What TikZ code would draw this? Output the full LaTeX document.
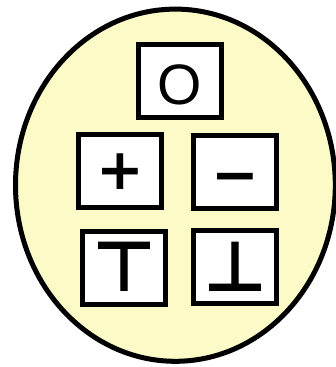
\documentclass[tikz,border=0pt]{standalone}
\usepackage{fontspec}
\setmainfont{Liberation Sans}
\newfontfamily\symfont{DejaVu Sans Bold}
\definecolor{ellfill}{RGB}{252,251,200}
\begin{document}
\begin{tikzpicture}[x=1pt,y=-1pt,
  symbox/.style={draw=black,line width=5pt,fill=white,minimum width=83pt,minimum height=73pt,inner sep=0pt,text height=0pt,text depth=0pt},
  outer/.style={draw=black,line width=5pt,fill=ellfill}]
\useasboundingbox (0,0) rectangle (335,367);
\draw[outer] (175.4,185.2) ellipse [x radius=159.9, y radius=176.1];
\node[symbox,font=\fontsize{57}{60}\selectfont] (o) at (180,80.5) {\raisebox{-24.2pt}{O}};
\node[symbox,font=\symfont\fontsize{57}{60}\selectfont] (plus) at (120,171) {\raisebox{-18.2pt}{+}};
\node[symbox,font=\symfont\fontsize{57}{60}\selectfont] (minus) at (235,172) {\raisebox{-22.2pt}{−}};
\node[symbox,font=\symfont\fontsize{70}{70}\selectfont] (top) at (124,267.5) {\raisebox{-23.5pt}{⊤}};
\node[symbox,font=\symfont\fontsize{70}{70}\selectfont] (bot) at (235,267) {\raisebox{-24.5pt}{⊥}};
\end{tikzpicture}
\end{document}
